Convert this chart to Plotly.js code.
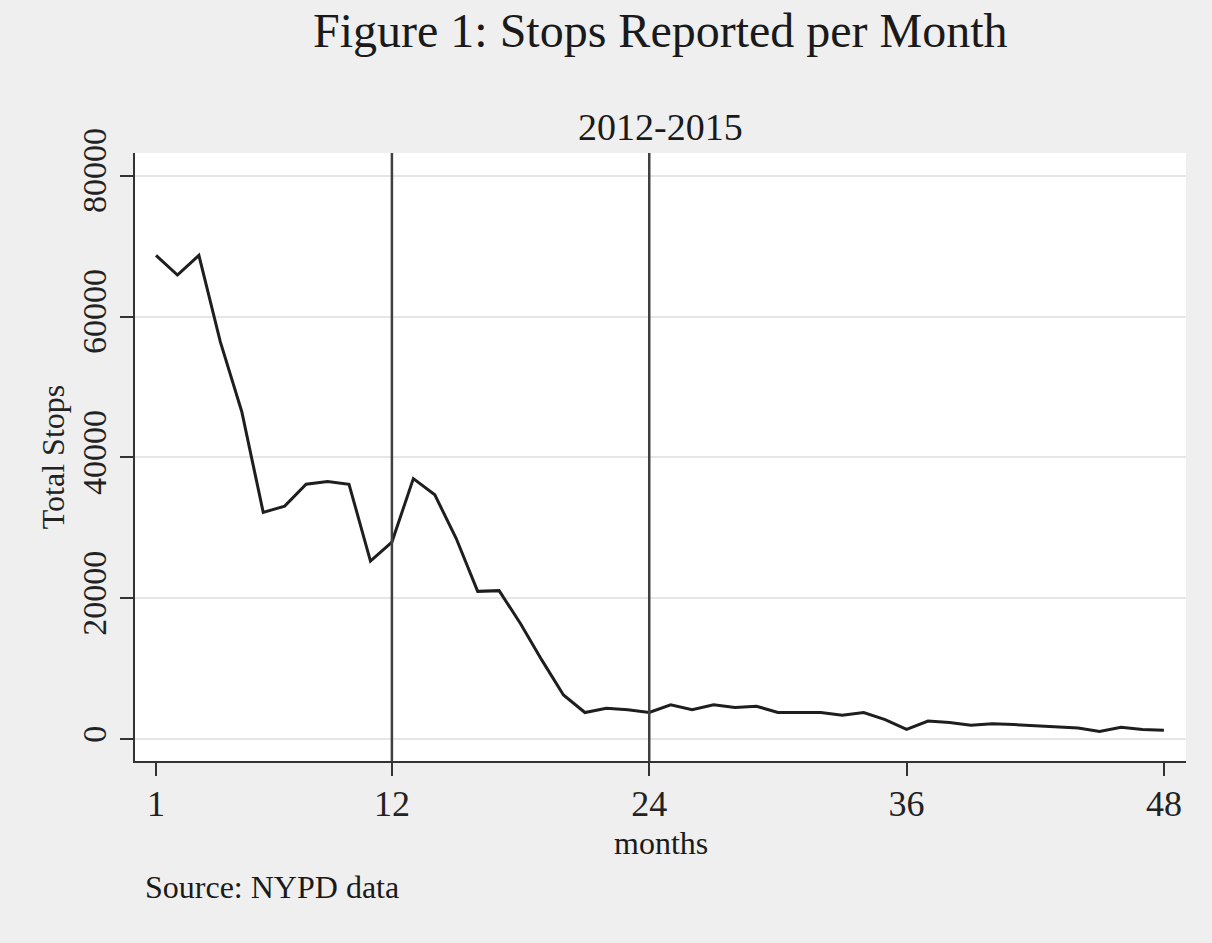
<!DOCTYPE html>
<html>
<head>
<meta charset="utf-8">
<script src="https://cdn.plot.ly/plotly-3.0.1.min.js"></script>
<style>
  html, body { margin: 0; padding: 0; background: #efefef; }
  #chart { width: 1212px; height: 943px; }
</style>
</head>
<body>
<div id="chart"></div>
<script>
// Month index (1 = Jan 2012 ... 48 = Dec 2015)
const months = [1,2,3,4,5,6,7,8,9,10,11,12,13,14,15,16,17,18,19,20,21,22,23,24,
                25,26,27,28,29,30,31,32,33,34,35,36,37,38,39,40,41,42,43,44,45,46,47,48];
// Total stops reported per month
const totalStops = [68700,65900,68700,56400,46500,32200,33100,36200,36600,36200,25300,28000,
                    37000,34700,28500,21000,21100,16400,11200,6300,3800,4400,4200,3800,
                    4900,4200,4900,4500,4700,3800,3800,3800,3400,3800,2800,1400,
                    2600,2400,2000,2200,2100,1900,1800,1600,1100,1700,1400,1300];
// Reference lines (vertical) at these months
const markerMonths = [12, 24];
// Tick labels
const xTicks = [1, 12, 24, 36, 48];
const yTicks = [0, 20000, 40000, 60000, 80000];

const FONT = '"Liberation Serif", "Times New Roman", Times, serif';

const trace = {
  x: months,
  y: totalStops,
  type: 'scatter',
  mode: 'lines',
  line: { color: '#1e1e1e', width: 3 },
  hoverinfo: 'x+y',
  showlegend: false
};

const shapes = markerMonths.map(m => ({
  type: 'line', xref: 'x', yref: 'paper',
  x0: m, x1: m, y0: 0, y1: 1,
  line: { color: '#404040', width: 2.5 }
}));

const layout = {
  width: 1212, height: 943,
  paper_bgcolor: '#efefef',
  plot_bgcolor: '#ffffff',
  margin: { l: 135, r: 26, t: 153, b: 182 },
  font: { family: FONT, color: '#222' },
  showlegend: false,
  xaxis: {
    range: [0.02, 49.03],
    tickvals: xTicks,
    ticktext: xTicks.map(String),
    ticks: 'outside', ticklen: 13, tickwidth: 2, tickcolor: '#333',
    ticklabelstandoff: -3,
    showline: true, linecolor: '#333', linewidth: 2,
    showgrid: false, zeroline: false,
    tickfont: { family: FONT, size: 36, color: '#222' }
  },
  yaxis: {
    range: [-3080, 83220],
    tickvals: yTicks,
    ticktext: yTicks.map(String),
    tickangle: -90,
    ticks: 'outside', ticklen: 13, tickwidth: 2, tickcolor: '#333',
    showline: true, linecolor: '#333', linewidth: 2,
    showgrid: true, gridcolor: '#e6e6e6', gridwidth: 2,
    zeroline: false,
    tickfont: { family: FONT, size: 34, color: '#222' },
    title: { text: 'Total Stops', font: { family: FONT, size: 32, color: '#222' }, standoff: 2 }
  },
  shapes: shapes,
  annotations: [
    { text: 'Figure 1: Stops Reported per Month', xref: 'paper', yref: 'paper',
      x: 0.5, y: (761 - 30) / 608, xanchor: 'center', yanchor: 'middle', showarrow: false,
      font: { family: FONT, size: 48, color: '#1a1a1a' } },
    { text: '2012-2015', xref: 'paper', yref: 'paper',
      x: 0.5, y: (761 - 127) / 608, xanchor: 'center', yanchor: 'middle', showarrow: false,
      font: { family: FONT, size: 38, color: '#1a1a1a' } },
    { text: 'months', xref: 'paper', yref: 'paper',
      x: 0.5, y: (761 - 843) / 608, xanchor: 'center', yanchor: 'middle', showarrow: false,
      font: { family: FONT, size: 32, color: '#1a1a1a' } },
    { text: 'Source: NYPD data', xref: 'paper', yref: 'paper',
      x: (143 - 135) / 1051, y: (761 - 887) / 608, xanchor: 'left', yanchor: 'middle', showarrow: false,
      font: { family: FONT, size: 32, color: '#1a1a1a' } }
  ]
};

Plotly.newPlot('chart', [trace], layout, { displayModeBar: false });
</script>
</body>
</html>
